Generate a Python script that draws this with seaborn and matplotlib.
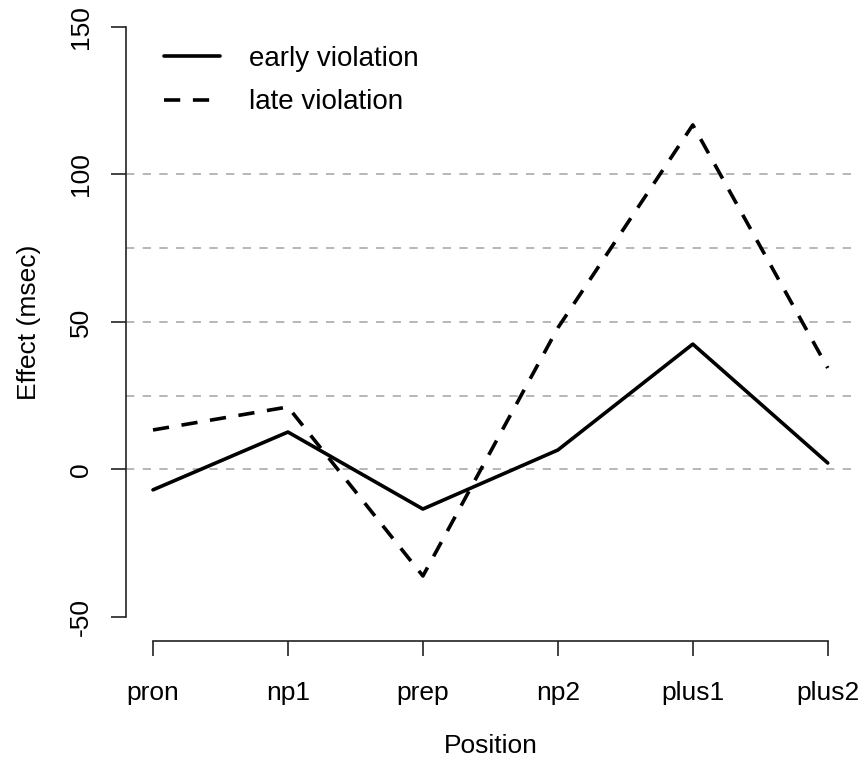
import numpy as np
import pandas as pd
import matplotlib
matplotlib.use("Agg")
import matplotlib.pyplot as plt
import seaborn as sns

positions = ["pron", "np1", "prep", "np2", "plus1", "plus2"]
early = [-6.9, 12.7, -13.4, 6.6, 42.5, 2.2]
late = [13.4, 21.2, -36.1, 48.0, 116.8, 34.4]
conditions = ["early violation", "late violation"]
yticks = [-50, 0, 50, 100, 150]
gridlines = [0, 25, 50, 75, 100]

sns.set_style("white")
plt.rcParams['font.family'] = ['Liberation Sans', 'DejaVu Sans']
plt.rcParams['text.color'] = 'black'
plt.rcParams['axes.labelcolor'] = 'black'
plt.rcParams['xtick.color'] = 'black'
plt.rcParams['ytick.color'] = 'black'

df = pd.DataFrame({
    "x": list(range(1, 7)) * 2,
    "effect": early + late,
    "cond": [conditions[0]] * 6 + [conditions[1]] * 6,
})

fig = plt.figure(figsize=(8.66, 7.66), dpi=100)
ax = fig.add_axes([0.1455, 0.1637, 0.987 - 0.1455, 0.9956 - 0.1637])

for g in gridlines:
    ax.axhline(g, color="#aaaaaa", lw=1.2, ls=(0, (5, 5)), zorder=0)

sns.lineplot(data=df, x="x", y="effect", style="cond", color="black",
             dashes={conditions[0]: "", conditions[1]: (4.5, 3.5)},
             lw=2.6, ax=ax, legend=True)

ax.set_xlim(0.8, 6.2)
ax.set_ylim(-58, 158)
ax.set_xticks(range(1, 7))
ax.set_xticklabels(positions, fontsize=19)
ax.set_yticks(yticks)
ax.set_yticklabels([str(v) for v in yticks], fontsize=19, rotation=90, va="center")
ax.tick_params(axis="both", direction="out", length=11, width=1.2, color="#222222",
               left=True, bottom=True)
ax.tick_params(axis="y", pad=13)
ax.tick_params(axis="x", pad=18)

for s in ["top", "right"]:
    ax.spines[s].set_visible(False)
ax.spines["left"].set_bounds(-50, 150)
ax.spines["bottom"].set_bounds(1, 6)
for s in ["left", "bottom"]:
    ax.spines[s].set_color("#222222")
    ax.spines[s].set_linewidth(1.2)

ax.set_xlabel("Position", fontsize=19, labelpad=21)
ax.set_ylabel("Effect (msec)", fontsize=19, labelpad=20)

leg = ax.legend(loc="upper left", bbox_to_anchor=(0.018, 0.972), frameon=False,
                fontsize=20, handlelength=2.0, handletextpad=1.05, labelspacing=0.62)

fig.savefig("out.png", dpi=100)
